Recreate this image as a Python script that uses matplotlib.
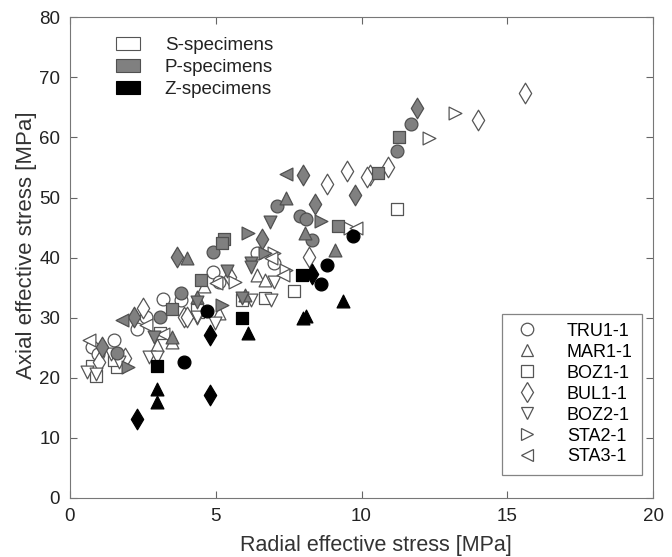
import matplotlib
matplotlib.use("Agg")
import matplotlib.pyplot as plt
from matplotlib.patches import Patch
from matplotlib.lines import Line2D

plt.rcParams["font.family"] = ["Liberation Sans", "DejaVu Sans"]

# specimen names and their marker shapes
specimens = ["TRU1-1", "MAR1-1", "BOZ1-1", "BUL1-1", "BOZ2-1", "STA2-1", "STA3-1"]
shapes = ["o", "^", "s", "d", "v", ">", "<"]

# S-specimens (white), one marker code per point
s_shape = (["d"] * 14 + [">"] * 6 + ["<"] * 7 + ["s"] * 11 + ["o"] * 11
           + ["^"] * 6 + ["v"] * 12)
s_x = [10.9, 14.0, 15.6, 10.3, 9.5, 8.8, 10.2, 8.2, 5.5, 3.9, 2.5, 4.0, 1.0, 1.9,
       13.2, 12.3, 7.0, 7.4, 5.65, 9.6,
       9.8, 6.9, 7.3, 5.0, 2.6, 0.65, 3.2,
       11.2, 4.4, 5.9, 6.7, 7.7, 4.35, 3.1, 0.75, 0.9, 1.6, 1.5,
       6.4, 7.0, 4.9, 5.1, 3.2, 3.8, 2.6, 2.3, 0.75, 1.5, 0.96,
       6.4, 6.7, 4.6, 5.1, 3.5, 3.0,
       7.0, 4.35, 4.96, 6.2, 6.9, 4.35, 2.7, 3.0, 0.6, 0.9, 1.7, 1.4]
s_y = [55.1, 62.9, 67.4, 53.7, 54.4, 52.2, 53.4, 40.1, 36.8, 30.1, 31.6, 30.1, 22.6, 23.3,
       64.1, 59.9, 40.8, 37.9, 35.9, 44.9,
       44.9, 39.9, 37.1, 35.8, 28.8, 26.3, 27.3,
       48.1, 31.0, 32.9, 33.3, 34.4, 31.2, 27.5, 22.0, 20.3, 21.8, 23.0,
       40.8, 39.1, 37.6, 35.9, 33.1, 32.9, 30.1, 28.1, 25.1, 26.3, 24.0,
       37.1, 36.3, 35.3, 30.8, 26.0, 25.5,
       35.9, 29.9, 29.1, 32.9, 32.9, 30.1, 23.5, 23.5, 21.0, 20.6, 22.6, 23.9]

# P-specimens (grey)
p_shape = (["d"] * 8 + ["o"] * 10 + ["s"] * 7 + ["^"] * 7 + ["v"] * 7
           + [">"] * 5 + ["<"] * 2)
p_x = [11.9, 8.0, 9.76, 8.4, 6.6, 3.66, 2.2, 1.1,
       11.7, 11.2, 7.1, 7.9, 8.1, 8.3, 4.9, 3.8, 3.1, 1.6,
       11.3, 10.55, 9.2, 5.3, 5.2, 4.5, 3.5,
       7.4, 8.05, 9.1, 4.0, 6.0, 3.5, 4.35,
       6.85, 6.2, 6.2, 5.4, 4.35, 5.9, 2.9,
       8.6, 6.1, 6.7, 5.2, 2.0,
       7.4, 1.8]
p_y = [64.9, 53.7, 50.4, 48.9, 43.1, 40.1, 30.1, 25.1,
       62.2, 57.7, 48.6, 46.9, 46.4, 42.9, 40.9, 34.1, 30.1, 24.1,
       60.1, 54.1, 45.3, 43.1, 42.4, 36.3, 31.4,
       49.9, 44.1, 41.3, 39.9, 33.8, 26.8, 33.4,
       46.0, 39.1, 38.4, 37.8, 32.6, 33.3, 26.8,
       46.1, 44.1, 40.8, 32.1, 21.8,
       53.9, 29.6]

# Z-specimens (black)
z_shape = ["o"] * 5 + ["^"] * 6 + ["s"] * 3 + ["d"] * 4
z_x = [3.9, 4.7, 8.6, 8.8, 9.7,
       3.0, 3.0, 6.1, 8.0, 8.1, 9.35,
       3.0, 5.9, 7.95,
       2.3, 4.8, 4.8, 8.3]
z_y = [22.7, 31.1, 35.6, 38.7, 43.6,
       18.1, 16.0, 27.4, 30.0, 30.3, 32.8,
       22.0, 29.9, 37.1,
       13.1, 17.1, 27.1, 37.3]

groups = [
    ("S-specimens", "white", "#555555", s_shape, s_x, s_y),
    ("P-specimens", "#808080", "#505050", p_shape, p_x, p_y),
    ("Z-specimens", "black", "black", z_shape, z_x, z_y),
]

fig = plt.figure(figsize=(6.72, 5.57), dpi=100)
ax = fig.add_axes([0.104, 0.106, 0.868, 0.863])

for name, face, edge, shp, xs, ys in groups:
    for m in shapes:
        px = [x for x, s in zip(xs, shp) if s == m]
        py = [y for y, s in zip(ys, shp) if s == m]
        if px:
            ax.scatter(px, py, marker=m, s=85 if m != "d" else 110,
                       facecolor=face, edgecolor=edge, linewidths=0.9, zorder=3)

ax.set_xlim(0, 20)
ax.set_ylim(0, 80)
ax.set_xticks([0, 5, 10, 15, 20])
ax.set_yticks(range(0, 81, 10))
ax.tick_params(direction="in", top=True, right=True, labelsize=13.5,
               color="#666666", labelcolor="#222222", length=5, pad=7)
for sp in ax.spines.values():
    sp.set_color("#777777")
ax.set_xlabel("Radial effective stress [MPa]", fontsize=15.5, color="#333333")
ax.set_ylabel("Axial effective stress [MPa]", fontsize=16, color="#333333")
ax.xaxis.set_label_coords(0.525, -0.078)
ax.yaxis.set_label_coords(-0.057, 0.526)

# group legend (colour)
handles1 = [Patch(facecolor=f, edgecolor=e, linewidth=0.8) for _, f, e, *_ in groups]
leg1 = ax.legend(handles1, [g[0] for g in groups], loc="upper left",
                 bbox_to_anchor=(0.05, 0.995), frameon=False, fontsize=13.5,
                 handlelength=1.3, handleheight=0.75, handletextpad=1.3,
                 labelspacing=0.25)
for t in leg1.get_texts():
    t.set_color("#222222")
ax.add_artist(leg1)

# specimen legend (shape)
handles2 = [Line2D([], [], marker=m, linestyle="none", markersize=9 if m != "d" else 10,
                   markerfacecolor="white", markeredgecolor="#555555",
                   markeredgewidth=0.9) for m in shapes]
leg2 = ax.legend(handles2, specimens, loc="lower right", bbox_to_anchor=(0.996, 0.03),
                 fontsize=13, fancybox=False, edgecolor="#666666",
                 handletextpad=1.3, labelspacing=0.22, borderpad=0.5,
                 handlelength=1.8)
leg2.get_frame().set_linewidth(0.9)

fig.savefig("out.png", dpi=100)
